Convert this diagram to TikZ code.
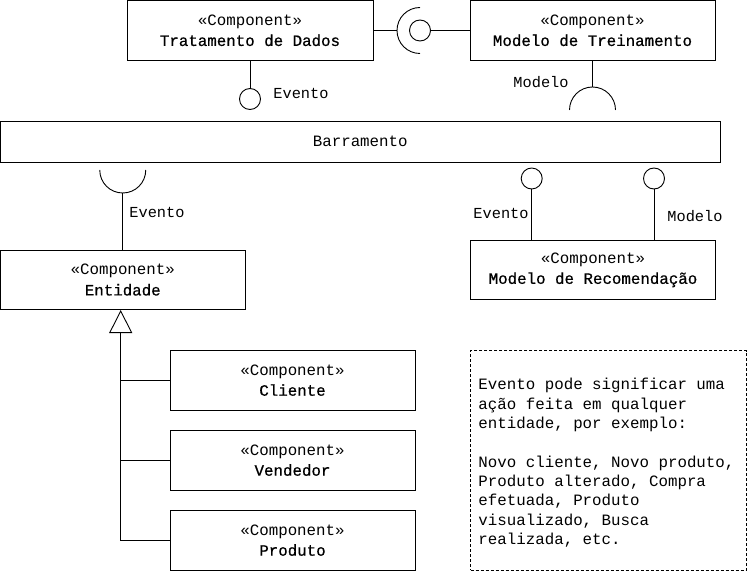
\documentclass[tikz,border=0pt]{standalone}
\usepackage{fontspec}
\setmainfont{Liberation Mono}[BoldFont={Liberation Mono}, BoldFeatures={FakeBold=0.7}]
\usetikzlibrary{arrows.meta}

\begin{document}
\begin{tikzpicture}[x=1pt, y=-1pt, line width=0.9pt,
            font=\fontsize{15.8}{20.5}\selectfont,
            comp/.style={draw, minimum width=245pt, minimum height=59.5pt, inner sep=0, align=center},
            ball/.style={draw, circle, minimum size=21pt, inner sep=0},
            lbl/.style={inner sep=0, font=\fontsize{15.3}{18}\selectfont},
            gen/.style={-{Triangle[open, length=23pt, width=23pt]}},
            node distance=80pt]
        \useasboundingbox (0,0) rectangle (747,572);

        \node (1) [comp, minimum width=246pt] at (250,30.5) {«Component»\\\textbf{Tratamento de Dados}};
        \node (2) [comp] at (592.5,30.5) {«Component»\\\textbf{Modelo de Treinamento}};
        \node (bus) [draw, minimum width=719.5pt, minimum height=41.5pt] at (360.25,141.75) {Barramento};
        \node (3) [comp] at (122.75,280) {«Component»\\\textbf{Entidade}};
        \node (4) [comp] at (593,270) {«Component»\\\textbf{Modelo de Recomendação}};
        \node (5) [comp] at (292.5,380.25) {«Component»\\\textbf{Cliente}};
        \node (6) [comp, below of=5] {«Component»\\\textbf{Vendedor}};
        \node (7) [comp, below of=6] {«Component»\\\textbf{Produto}};

        % interfaces
        \node (b1) [ball] at (420,30.5) {};
        \node (b2) [ball] at (250,99) {};
        \node (b3) [ball] at (531.7,178.5) {};
        \node (b4) [ball] at (654,178.5) {};
        \coordinate (s1) at (397,30.5);
        \coordinate (s2) at (592.5,87);
        \coordinate (s3) at (122.75,193);

        \draw (1) -- (s1);
        \draw (s1) arc[start angle=180, end angle=270, radius=23]
              (s1) arc[start angle=180, end angle=90, radius=23];
        \draw (b1) -- (2);
        \draw (1) -- (b2);
        \draw (2) -- (s2);
        \draw (s2) arc[start angle=270, end angle=180, radius=23]
              (s2) arc[start angle=270, end angle=360, radius=23];
        \draw (s3) -- (3);
        \draw (s3) arc[start angle=90, end angle=180, radius=23]
              (s3) arc[start angle=90, end angle=0, radius=23];
        \draw (b3) -- (b3 |- 4.north);
        \draw (b4) -- (b4 |- 4.north);

        \node (e1) [lbl, anchor=west] at (273,93) {Evento};
        \node (m1) [lbl, anchor=east] at (569,82) {Modelo};
        \node (e2) [lbl, anchor=west] at (129,212) {Evento};
        \node (e3) [lbl, anchor=east] at (529,213) {Evento};
        \node (m2) [lbl, anchor=west] at (667,216) {Modelo};

        % generalization
        \coordinate (t) at (120.7,310);
        \draw [gen] (7.west) -| (t);
        \draw (5.west) -- (5.west -| t);
        \draw (6.west) -- (6.west -| t);

        % note
        \node (note) [draw, dash pattern=on 3pt off 2pt, minimum width=276pt, minimum height=219.5pt] at (608.5,460.25) {};
        \node (txt) [anchor=north west, inner sep=0, align=left, font=\fontsize{15.8}{19.3}\selectfont] at (478,378)
            {Evento pode significar uma\\ação feita em qualquer\\entidade, por exemplo:\\[19.3pt]Novo cliente, Novo produto,\\Produto alterado, Compra\\efetuada, Produto\\visualizado, Busca\\realizada, etc.};
    \end{tikzpicture}
\end{document}
